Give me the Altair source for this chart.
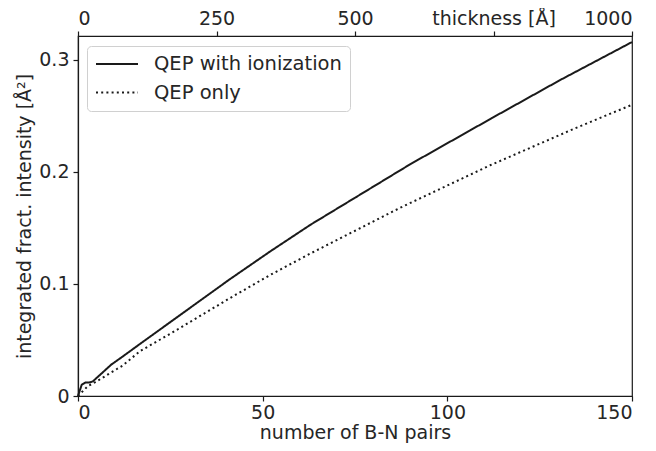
import altair as alt
import pandas as pd

# Data
ion_x = [0, 1, 2, 3, 4, 6, 9, 12, 17, 25, 41, 52, 63, 75, 90, 112, 130.5, 150]
ion_y = [0, 0.010, 0.012, 0.012, 0.013, 0.019, 0.028, 0.035, 0.047, 0.066, 0.104, 0.129,
         0.153, 0.177, 0.207, 0.248, 0.282, 0.316]

qep_x = [0, 2.7, 4, 8, 12, 16.8, 25.7, 41.2, 52, 62.8, 87.2, 111.6, 134.6, 150]
qep_y = [0, 0.009, 0.011, 0.019, 0.027, 0.040, 0.057, 0.0875, 0.108, 0.127, 0.168,
         0.206, 0.239, 0.260]

series_names = ["QEP with ionization", "QEP only"]
thickness_ends = [0, 1000]

rows = []
for x, y in zip(ion_x, ion_y):
    rows.append({"pairs": x, "intensity": y, "series": series_names[0]})
for x, y in zip(qep_x, qep_y):
    rows.append({"pairs": x, "intensity": y, "series": series_names[1]})
df = pd.DataFrame(rows)
df_top = pd.DataFrame({"thickness": thickness_ends})

FONT = "DejaVu Sans"
FS = 19
TXT = "#262626"

lines = alt.Chart(df).mark_line(strokeWidth=2, color="#1a1a1a").encode(
    x=alt.X("pairs:Q",
            scale=alt.Scale(domain=[0, 150], nice=False, zero=False),
            axis=alt.Axis(orient="bottom", values=[0, 50, 100, 150], title="number of B-N pairs",
                          tickSize=5, labelPadding=2, titlePadding=1)),
    y=alt.Y("intensity:Q",
            scale=alt.Scale(domain=[0, 0.3214], nice=False),
            axis=alt.Axis(values=[0, 0.1, 0.2, 0.3],
                          labelExpr="datum.value == 0 ? '0' : format(datum.value, '.1f')",
                          title="integrated fract. intensity [Å²]",
                          tickSize=5, labelPadding=4, titlePadding=4)),
    strokeDash=alt.StrokeDash("series:N",
                              scale=alt.Scale(domain=series_names, range=[[1, 0], [2, 3.2]]),
                              sort=series_names,
                              legend=alt.Legend(title=None, orient="none", legendX=9, legendY=10,
                                                symbolType="stroke", symbolSize=1764,
                                                symbolStrokeWidth=2, symbolStrokeColor="#1a1a1a",
                                                clipHeight=20, rowPadding=8.5, labelOffset=15,
                                                padding=8, strokeColor="#d0d0d0", cornerRadius=4,
                                                fillColor="#ffffff", labelFontSize=19.5,
                                                labelFont=FONT, labelColor=TXT, labelLimit=0)),
    detail="series:N",
)

top = alt.Chart(df_top).mark_point(opacity=0).encode(
    x=alt.X("thickness:Q",
            scale=alt.Scale(domain=[0, 1000], nice=False),
            axis=alt.Axis(orient="top", values=[0, 250, 500, 750, 1000], title=None, format="d",
                          labelExpr="datum.value == 750 ? 'thickness [Å]' : datum.label",
                          tickSize=5, labelPadding=3)),
)

chart = alt.layer(lines, top).resolve_scale(x="independent").properties(
    width=554, height=360,
    background="white",
    autosize=alt.AutoSizeParams(type="none"),
    padding={"left": 70, "top": 28, "right": 16, "bottom": 52},
).configure_axis(
    grid=False, labelFont=FONT, titleFont=FONT, labelFontSize=FS, titleFontSize=FS,
    labelColor=TXT, titleColor=TXT, titleFontWeight="normal", domainColor="#1a1a1a",
    tickColor="#1a1a1a", domainWidth=1.2, tickWidth=1.2,
).configure_view(stroke="#1a1a1a", strokeWidth=1.2)

chart.save("out.html", embed_options={"renderer": "svg", "actions": False})
